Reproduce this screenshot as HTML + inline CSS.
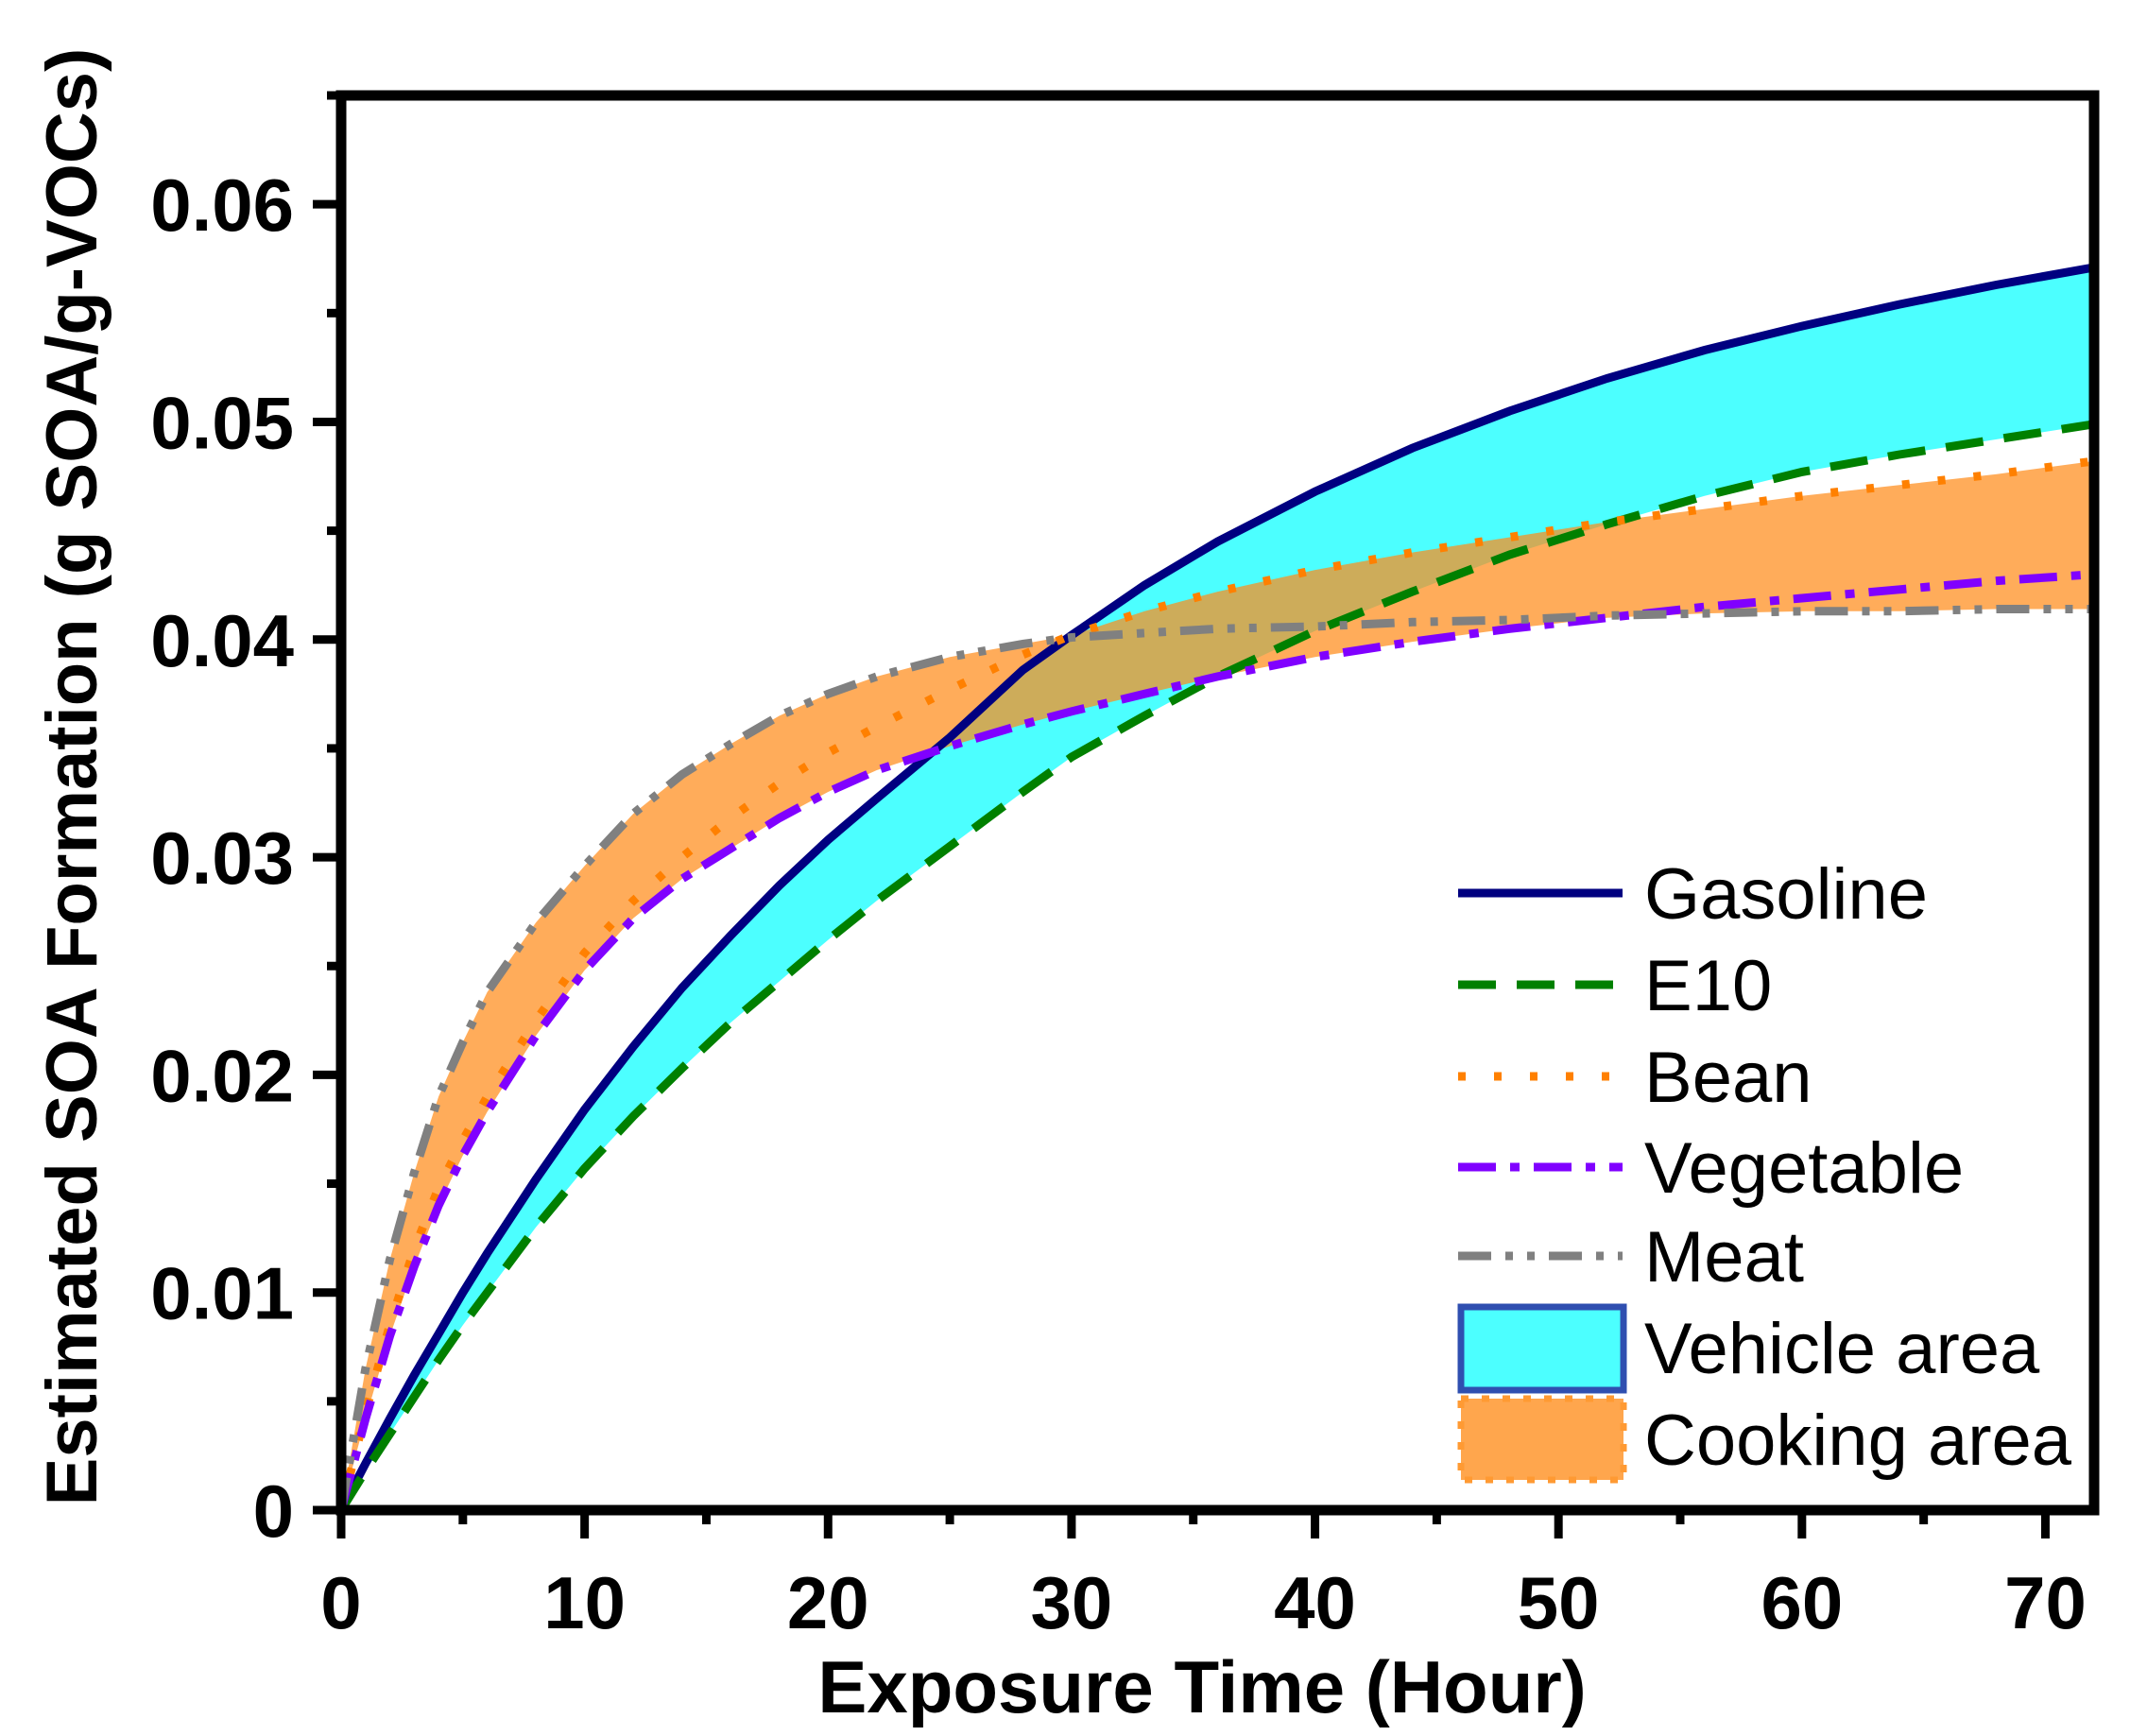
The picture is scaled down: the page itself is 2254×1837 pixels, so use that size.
<!DOCTYPE html>
<html><head><meta charset="utf-8"><style>
html,body{margin:0;padding:0;background:#fff;width:2254px;height:1837px;overflow:hidden}
svg{display:block}
text{font-family:"Liberation Sans",Arial,sans-serif}
</style></head><body>
<svg id="chart" width="2254" height="1837" viewBox="0 0 2254 1837" xmlns="http://www.w3.org/2000/svg"></svg>
<script>
const times = [0,1,2,3,4,5,6,8,10,12,14,16,18,20,22,25,28,30,33,36,40,44,48,52,56,60,64,68,72];
const gasoline = [0,0.00214,0.0042,0.0062,0.0081,0.0100,0.0118,0.0152,0.0184,0.0213,0.0240,0.0264,0.0287,0.0308,0.0327,0.0355,0.0386,0.0402,0.0425,0.0445,0.0468,0.0488,0.0505,0.0520,0.0533,0.0544,0.0554,0.0563,0.0571];
const e10 = [0,0.0018,0.0035,0.0052,0.0069,0.0085,0.0100,0.0130,0.0157,0.0181,0.0203,0.0224,0.0243,0.0262,0.0280,0.0305,0.0330,0.0346,0.0365,0.0383,0.0404,0.0422,0.0439,0.0453,0.0466,0.0477,0.0485,0.0492,0.0499];
const bean = [0,0.0045,0.0085,0.0120,0.0148,0.0170,0.0190,0.0225,0.0256,0.0280,0.0300,0.0318,0.0334,0.0348,0.0360,0.0377,0.0393,0.0402,0.0413,0.0422,0.0432,0.0440,0.0447,0.0454,0.0460,0.0466,0.0471,0.0476,0.0482];
const vegetable = [0,0.0042,0.0080,0.0112,0.0140,0.0163,0.0183,0.0218,0.0248,0.0272,0.0290,0.0304,0.0318,0.0330,0.0340,0.0351,0.0361,0.0367,0.0375,0.0383,0.0392,0.0399,0.0405,0.0410,0.0415,0.0419,0.0423,0.0427,0.0430];
const meat = [0,0.0065,0.0115,0.0155,0.0190,0.0215,0.0238,0.0270,0.0296,0.0320,0.0338,0.0352,0.0365,0.0375,0.0383,0.0392,0.0398,0.0401,0.0403,0.0405,0.0406,0.0408,0.0409,0.0411,0.0412,0.0413,0.0413,0.0414,0.0414];
const xTicks = [0,10,20,30,40,50,60,70];
const yTicks = [0,0.01,0.02,0.03,0.04,0.05,0.06];
const yTickLabels = ["0","0.01","0.02","0.03","0.04","0.05","0.06"];

const L=361,R=2216,T=101,B=1598,XMAX=72,YMAX=0.065;
const sx=v=>L+(R-L)*v/XMAX;
const sy=v=>B-(B-T)*v/YMAX;
const svg=document.getElementById('chart');
const NS='http://www.w3.org/2000/svg';
function mk(tag,attrs,parent){const e=document.createElementNS(NS,tag);for(const k in attrs)e.setAttribute(k,attrs[k]);(parent||svg).appendChild(e);return e;}
function linePath(arr){return times.map((t,i)=>(i?'L':'M')+sx(t).toFixed(1)+','+sy(arr[i]).toFixed(1)).join(' ');}
function bandPath(lo,hi){let d=times.map((t,i)=>(i?'L':'M')+sx(t).toFixed(1)+','+sy(hi[i]).toFixed(1)).join(' ');
 for(let i=times.length-1;i>=0;i--)d+=' L'+sx(times[i]).toFixed(1)+','+sy(lo[i]).toFixed(1);return d+' Z';}

const vLo=times.map((t,i)=>Math.min(gasoline[i],e10[i])), vHi=times.map((t,i)=>Math.max(gasoline[i],e10[i]));
const vb=mk('path',{d:bandPath(vLo,vHi),fill:'#4cffff'});


const cLo=times.map((t,i)=>Math.min(bean[i],vegetable[i],meat[i])), cHi=times.map((t,i)=>Math.max(bean[i],vegetable[i],meat[i]));
const cb=mk('path',{d:bandPath(cLo,cHi),fill:'#ff8c1a','fill-opacity':'0.72'});



const series=[
 ['gasoline-line',gasoline,'#000080',''],
 ['e10-line',e10,'#008000','40 22'],
 ['bean-line',bean,'#ff8000','8 30'],
 ['vegetable-line',vegetable,'#8000ff','40 15 10 15'],
 ['meat-line',meat,'#808080','35 15 8 15 8 15']
];
series.forEach(s=>{
 const p=mk('path',{d:linePath(s[1]),fill:'none',stroke:s[2],'stroke-width':'9','stroke-dasharray':s[3]||'none'});
 
 
});

const fr=mk('rect',{x:L,y:T,width:R-L,height:B-T,fill:'none',stroke:'#000','stroke-width':'11'});



for(let v=0;v<=72;v+=5){const major=v%10===0;
 const tk=mk('line',{x1:sx(v),x2:sx(v),y1:B,y2:B+(major?30:15),stroke:'#000','stroke-width':'9'});
 
 }
xTicks.forEach(v=>{const t=mk('text',{x:sx(v),y:1723,'font-size':'78','font-weight':'bold','text-anchor':'middle'});t.textContent=v;
 
 });
for(let k=0;k<=13;k++){const v=k*0.005;const major=k%2===0;
 const tk=mk('line',{x1:L-(major?30:15),x2:L,y1:sy(v),y2:sy(v),stroke:'#000','stroke-width':'9'});
 
 }
yTicks.forEach((v,i)=>{const t=mk('text',{x:311,y:sy(v)+28,'font-size':'78','font-weight':'bold','text-anchor':'end'});t.textContent=yTickLabels[i];
 
 });

const xt=mk('text',{x:1272,y:1812,'font-size':'78','font-weight':'bold','text-anchor':'middle'});xt.textContent='Exposure Time (Hour)';


const yt=mk('text',{x:0,y:0,'font-size':'76','font-weight':'bold','text-anchor':'middle',transform:'translate(102,822) rotate(-90)'});yt.textContent='Estimated SOA Formation (g SOA/g-VOCs)';



const leg=mk('g',{});


const legRows=[['Gasoline',945],['E10',1042],['Bean',1139],['Vegetable',1235],['Meat',1329],['Vehicle area',1426],['Cooking area',1523]];
series.forEach((s,i)=>{const y=legRows[i][1];
 const l=mk('line',{x1:1543,x2:1717,y1:y,y2:y,stroke:s[2],'stroke-width':'9','stroke-dasharray':s[3]||'none'},leg);
 
 });
const r1=mk('rect',{x:1546,y:1383,width:172,height:88,fill:'#4cffff',stroke:'#2f4fb0','stroke-width':'7'},leg);


const r2=mk('rect',{x:1546,y:1480,width:172,height:86,fill:'#ffa64d',stroke:'#ff9a33','stroke-width':'7','stroke-dasharray':'8 14'},leg);


legRows.forEach(r=>{const t=mk('text',{x:1740,y:r[1]+27,'font-size':'76'},leg);t.textContent=r[0];
 
 });
</script>
</body></html>
